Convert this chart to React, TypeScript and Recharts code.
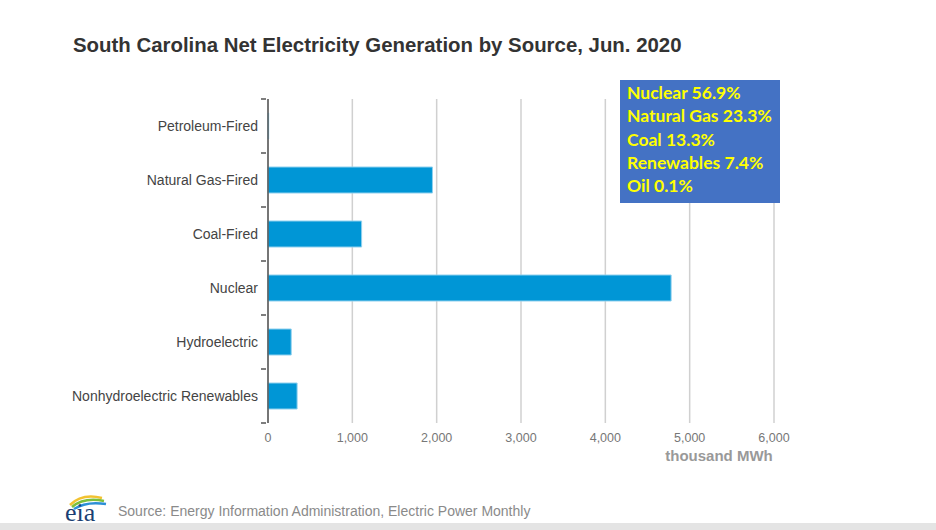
import React from 'react';
import { BarChart, Bar, XAxis, YAxis, CartesianGrid } from 'recharts';

// источники и значения, тыс. МВт·ч (июнь 2020)
const sources = [
  'Petroleum-Fired',
  'Natural Gas-Fired',
  'Coal-Fired',
  'Nuclear',
  'Hydroelectric',
  'Nonhydroelectric Renewables',
];
const generation = [8, 1950, 1110, 4780, 275, 345];
const xTicks = [0, 1000, 2000, 3000, 4000, 5000, 6000];

const shareLines = [
  'Nuclear 56.9%',
  'Natural Gas 23.3%',
  'Coal 13.3%',
  'Renewables 7.4%',
  'Oil 0.1%',
];

const data = sources.map((name, i) => ({ name, value: generation[i] }));

const FONT = '"Liberation Sans", Arial, sans-serif';
const HALF_BAND = 27;

function CategoryTick(props: any) {
  const { x, y, payload, index } = props;
  return (
    <g>
      <line x1={x - 5} x2={x} y1={y - HALF_BAND} y2={y - HALF_BAND} stroke="#555" strokeWidth={1.5} />
      {index === sources.length - 1 && (
        <line x1={x - 5} x2={x} y1={y + HALF_BAND} y2={y + HALF_BAND} stroke="#555" strokeWidth={1.5} />
      )}
      <text x={x - 8} y={y} dy="0.35em" textAnchor="end" fontSize={14} fill="#444" fontFamily={FONT}>
        {payload.value}
      </text>
    </g>
  );
}

function EiaLogo() {
  return (
    <svg width={50} height={36} style={{ position: 'absolute', left: 62, top: 490 }}>
      <path d="M8 15 Q20 3 40 8" stroke="#f2c230" strokeWidth={2.5} fill="none" />
      <path d="M10 17 Q22 7 42 11" stroke="#7cbf3c" strokeWidth={2.5} fill="none" />
      <path d="M12 19 Q24 11 44 14" stroke="#2c8fd6" strokeWidth={2.5} fill="none" />
      <text x={3} y={31} fontSize={26} fontFamily='"Liberation Serif", serif' fill="#1b3f73">
        eia
      </text>
    </svg>
  );
}

export default function App() {
  return (
    <div style={{ position: 'absolute', left: 0, top: 0, width: 936, height: 530, background: '#fff', overflow: 'hidden' }}>
      <div
        style={{
          position: 'absolute',
          left: 73,
          top: 34,
          fontFamily: FONT,
          fontWeight: 'bold',
          fontSize: 20.4,
          color: '#333',
          whiteSpace: 'nowrap',
        }}
      >
        South Carolina Net Electricity Generation by Source, Jun. 2020
      </div>

      <BarChart
        width={936}
        height={530}
        data={data}
        layout="vertical"
        margin={{ top: 99, right: 162, bottom: 77, left: 68 }}
        barCategoryGap={0}
      >
        <CartesianGrid horizontal={false} vertical stroke="#d0d0d0" strokeWidth={1.5} />
        <XAxis
          type="number"
          domain={[0, 6000]}
          ticks={xTicks}
          axisLine={false}
          tickLine={false}
          height={30}
          tick={{ fontSize: 12.5, fill: '#777', fontFamily: FONT, dy: 2 }}
          tickFormatter={(v: number) => v.toLocaleString('en-US')}
        />
        <YAxis
          type="category"
          dataKey="name"
          width={200}
          axisLine={{ stroke: '#555', strokeWidth: 1.5 }}
          tickLine={false}
          tickSize={0}
          tick={<CategoryTick />}
          interval={0}
        />
        <Bar dataKey="value" fill="#0096d6" stroke="#8fd0ee" strokeWidth={1} barSize={26} isAnimationActive={false} />
      </BarChart>

      <div
        style={{
          position: 'absolute',
          left: 719,
          top: 447,
          transform: 'translateX(-50%)',
          fontFamily: FONT,
          fontWeight: 'bold',
          fontSize: 15,
          color: '#999',
          whiteSpace: 'nowrap',
        }}
      >
        thousand MWh
      </div>

      {/* плашка с долями */}
      <div
        style={{
          position: 'absolute',
          left: 620,
          top: 80,
          width: 160,
          height: 123,
          background: '#4472c4',
          boxSizing: 'border-box',
          padding: '1px 0 0 7px',
          fontFamily: 'Lato, "Liberation Sans", sans-serif',
          fontWeight: 'bold',
          fontSize: 17.5,
          lineHeight: '23.3px',
          color: '#ffff00',
          whiteSpace: 'nowrap',
        }}
      >
        {shareLines.map((s) => (
          <div key={s}>{s}</div>
        ))}
      </div>

      <EiaLogo />
      <div
        style={{
          position: 'absolute',
          left: 118,
          top: 503,
          fontFamily: FONT,
          fontSize: 14,
          color: '#8a8a8a',
          whiteSpace: 'nowrap',
        }}
      >
        Source: Energy Information Administration, Electric Power Monthly
      </div>
      <div style={{ position: 'absolute', left: 0, top: 523, width: 936, height: 7, background: '#e4e4e4' }} />
    </div>
  );
}
